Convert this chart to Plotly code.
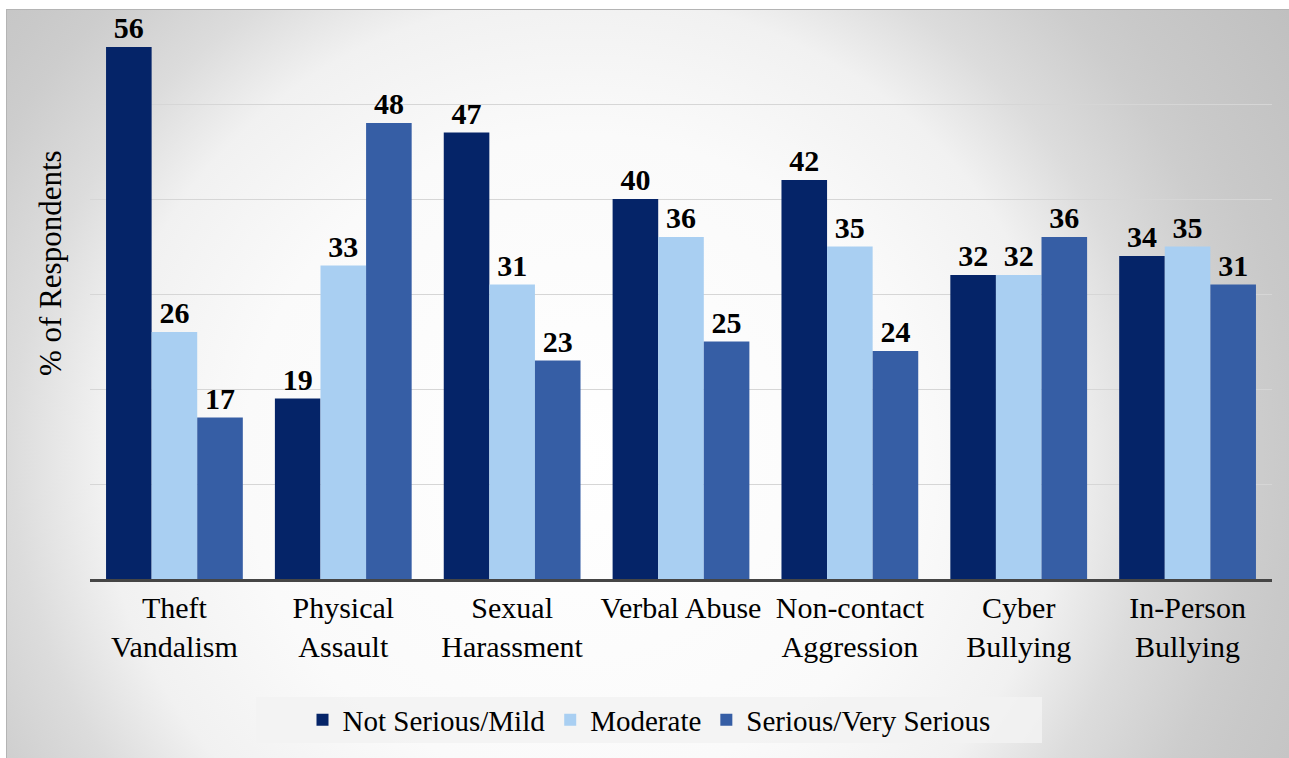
import base64
import plotly.graph_objects as go

# Survey results: perceived seriousness of each incident type
categories = ["Theft<br>Vandalism", "Physical<br>Assault", "Sexual<br>Harassment",
              "Verbal Abuse", "Non-contact<br>Aggression", "Cyber<br>Bullying",
              "In-Person<br>Bullying"]
not_serious = [56, 19, 47, 40, 42, 32, 34]
moderate = [26, 33, 31, 36, 35, 32, 35]
serious = [17, 48, 23, 25, 24, 36, 31]

series = [
    ("Not Serious/Mild", not_serious, "#052468"),
    ("Moderate", moderate, "#a9cff2"),
    ("Serious/Very Serious", serious, "#365ea5"),
]

W, H = 1289, 758
ML, MR, MT, MB = 90, 17, 9, 179
PW, PH = W - ML - MR, H - MT - MB

SERIF = "Liberation Serif, Times New Roman, serif"

fig = go.Figure()
for name, vals, color in series:
    fig.add_trace(go.Bar(
        x=categories, y=vals, name=name,
        marker=dict(color=color, line=dict(width=0)),
        text=vals, texttemplate="<b>%{text}</b>", textposition="outside",
        textfont=dict(family=SERIF, size=30, color="black"),
        cliponaxis=False,
    ))

# Soft elliptical backdrop behind the whole chart
BW, BH = W - 6, H - 9
svg = f"""<svg xmlns='http://www.w3.org/2000/svg' width='{BW}' height='{BH}' viewBox='0 0 {BW} {BH}' preserveAspectRatio='none'>
<defs><radialGradient id='g' gradientUnits='userSpaceOnUse' cx='577' cy='449' r='846'
 gradientTransform='translate(577 449) scale(1 0.957) translate(-577 -449)'>
<stop offset='0' stop-color='#ffffff'/>
<stop offset='0.4' stop-color='#fafafa'/>
<stop offset='0.57' stop-color='#f1f1f1'/>
<stop offset='0.675' stop-color='#dcdcdc'/>
<stop offset='0.79' stop-color='#cdcdcd'/>
<stop offset='0.84' stop-color='#c9c9c9'/>
<stop offset='1' stop-color='#c0c0c0'/>
</radialGradient></defs>
<rect x='0' y='0' width='{BW}' height='{BH}' fill='url(#g)'/>
<rect x='0.5' y='0.5' width='{BW + 10}' height='{BH + 10}' fill='none' stroke='#b4b4b4' stroke-width='1'/>
</svg>"""
src = "data:image/svg+xml;base64," + base64.b64encode(svg.encode()).decode()

bx0, by0 = 6, 9
fig.add_layout_image(dict(
    source=src, xref="paper", yref="paper",
    x=(bx0 - ML) / PW, y=(H - MB - by0) / PH,
    sizex=BW / PW, sizey=BH / PH,
    xanchor="left", yanchor="top", sizing="stretch", layer="below",
))

# Legend panel
fig.add_shape(
    type="rect", xref="paper", yref="paper", layer="below",
    x0=(256 - ML) / PW, x1=(1042 - ML) / PW,
    y0=(H - MB - 743) / PH, y1=(H - MB - 697) / PH,
    fillcolor="rgba(242,242,242,0.85)", line=dict(width=0),
)

fig.add_annotation(
    text="% of Respondents", textangle=-90, showarrow=False,
    xref="paper", yref="paper",
    x=(50 - ML) / PW, y=(H - MB - 263) / PH,
    xanchor="center", yanchor="middle",
    font=dict(family=SERIF, size=31, color="black"),
)

fig.update_layout(
    width=W, height=H,
    margin=dict(l=ML, r=MR, t=MT, b=MB),
    paper_bgcolor="white", plot_bgcolor="rgba(0,0,0,0)",
    barmode="group", bargap=0.19, bargroupgap=0,
    font=dict(family=SERIF, size=30, color="black"),
    showlegend=True,
    legend=dict(
        orientation="h", x=(649 - ML) / PW, y=(H - MB - 720) / PH,
        xanchor="center", yanchor="middle",
        bgcolor="rgba(0,0,0,0)",
        font=dict(family=SERIF, size=29, color="black"),
        itemwidth=30, traceorder="normal",
    ),
    xaxis=dict(
        showline=True, linecolor="#454545", linewidth=3,
        ticks="", tickfont=dict(family=SERIF, size=30, color="black"),
        showgrid=False,
    ),
    yaxis=dict(
        range=[0, 60], dtick=10, showticklabels=False, ticks="",
        showgrid=True, gridcolor="#d6d6d6", gridwidth=1,
        zeroline=False, showline=False,
    ),
)

fig.write_html("out.html")
